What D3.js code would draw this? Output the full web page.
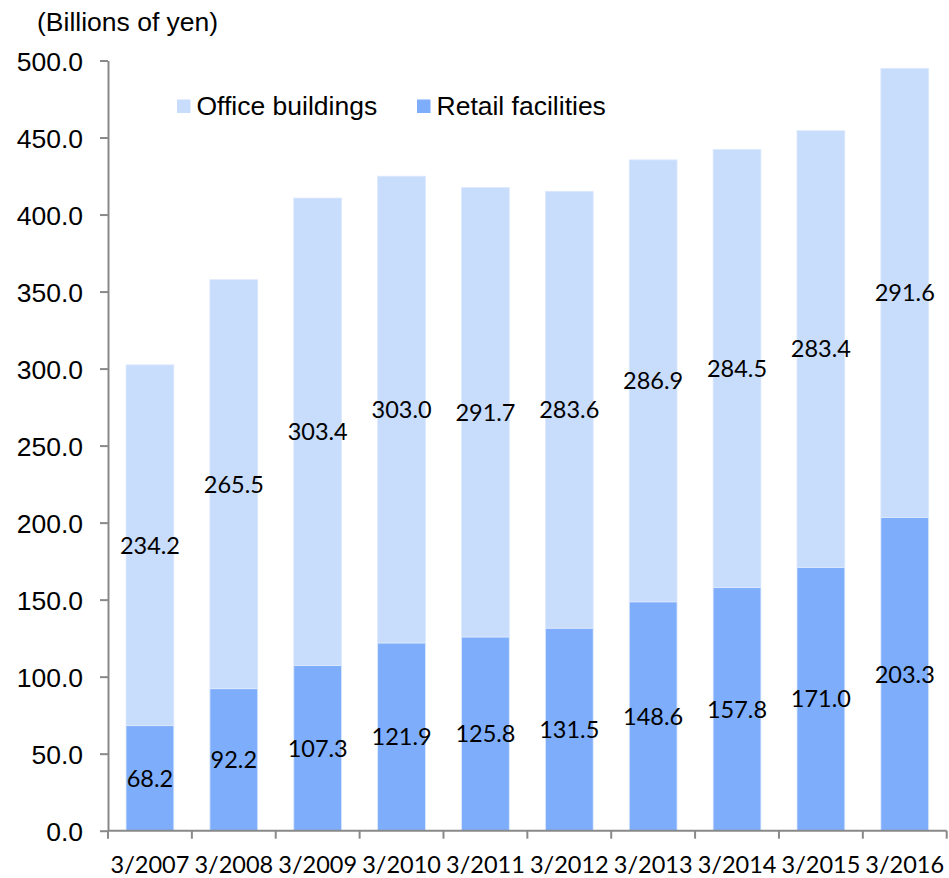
<!DOCTYPE html>
<html>
<head>
<meta charset="utf-8">
<script src="https://cdn.jsdelivr.net/npm/d3@7"></script>
<style>
  body { margin: 0; background: #fff; }
  svg { display: block; }
</style>
</head>
<body>
<div id="chart"></div>
<script>
const categories = ["3/2007", "3/2008", "3/2009", "3/2010", "3/2011", "3/2012", "3/2013", "3/2014", "3/2015", "3/2016"];
const retail = [68.2, 92.2, 107.3, 121.9, 125.8, 131.5, 148.6, 157.8, 171.0, 203.3];
const office = [234.2, 265.5, 303.4, 303.0, 291.7, 283.6, 286.9, 284.5, 283.4, 291.6];
const yTicks = [0, 50, 100, 150, 200, 250, 300, 350, 400, 450, 500];
const seriesNames = ["Office buildings", "Retail facilities"];

const width = 949, height = 878;
const colors = { office: "#c8dcfb", retail: "#7eaefb" };
const sansFont = "'Liberation Sans', Arial, sans-serif";
const labelFont = "Lato, 'Open Sans', sans-serif";

const svg = d3.select("#chart")
  .append("svg")
  .attr("width", width)
  .attr("height", height);

const x = d3.scaleBand()
  .domain(categories)
  .range([108, 946.7])
  .paddingInner(0.43)
  .paddingOuter(0.215);

const y = d3.scaleLinear().domain([0, 500]).range([830.7, 60.5]);

const data = categories.map(function (c, i) {
  return { cat: c, retail: retail[i], office: office[i] };
});

const stack = d3.stack().keys(["retail", "office"])(data);

// bars
svg.append("g")
  .selectAll("g")
  .data(stack)
  .join("g")
  .attr("fill", function (s) { return colors[s.key]; })
  .selectAll("rect")
  .data(function (s) { return s; })
  .join("rect")
  .attr("x", function (d) { return x(d.data.cat); })
  .attr("y", function (d) { return y(d[1]); })
  .attr("width", x.bandwidth())
  .attr("height", function (d) { return y(d[0]) - y(d[1]); })
  .attr("stroke", "#dde9fd")
  .attr("stroke-width", 0.8);

// value labels
svg.append("g")
  .selectAll("g")
  .data(stack)
  .join("g")
  .selectAll("text")
  .data(function (s) { return s; })
  .join("text")
  .attr("x", function (d) { return x(d.data.cat) + x.bandwidth() / 2; })
  .attr("y", function (d) { return y((d[0] + d[1]) / 2); })
  .attr("dy", "0.36em")
  .attr("text-anchor", "middle")
  .style("font-family", labelFont)
  .style("font-size", "23.5px")
  .attr("fill", "#000")
  .text(function (d) { return (d[1] - d[0]).toFixed(1); });

// y axis
const axisColor = "#898989";
const yAxis = svg.append("g")
  .attr("transform", "translate(108,0)")
  .call(d3.axisLeft(y).tickValues(yTicks).tickSize(8).tickSizeOuter(0)
    .tickFormat(function (d) { return d3.format(".1f")(d); }));
yAxis.select(".domain").attr("stroke", axisColor).attr("stroke-width", 2);
yAxis.selectAll(".tick line").attr("stroke", axisColor).attr("stroke-width", 2);
yAxis.selectAll(".tick text")
  .attr("x", -25)
  .attr("dy", "0.36em")
  .attr("fill", "#000")
  .style("font-family", sansFont)
  .style("font-size", "26.5px");

// x axis
const x0 = x.range()[0];
const step = x.step();
const xAxis = svg.append("g");
xAxis.append("line")
  .attr("x1", x0).attr("x2", x.range()[1])
  .attr("y1", y(0)).attr("y2", y(0))
  .attr("stroke", axisColor).attr("stroke-width", 2);
xAxis.selectAll("line.tk")
  .data(d3.range(categories.length + 1))
  .join("line")
  .attr("class", "tk")
  .attr("x1", function (i) { return x0 + i * step; })
  .attr("x2", function (i) { return x0 + i * step; })
  .attr("y1", y(0)).attr("y2", y(0) + 8)
  .attr("stroke", axisColor).attr("stroke-width", 2);
xAxis.selectAll("text")
  .data(categories)
  .join("text")
  .attr("x", function (c) { return x(c) + x.bandwidth() / 2; })
  .attr("y", 873)
  .attr("text-anchor", "middle")
  .style("font-family", labelFont)
  .style("font-size", "23.5px")
  .attr("fill", "#000")
  .text(function (c) { return c; });

// unit title
svg.append("text")
  .attr("x", 37)
  .attr("y", 31)
  .style("font-family", sansFont)
  .style("font-size", "26.5px")
  .text("(Billions of yen)");

// legend
const legendItems = [
  { name: seriesNames[0], color: colors.office, x: 177 },
  { name: seriesNames[1], color: colors.retail, x: 417 }
];
const legend = svg.append("g")
  .selectAll("g")
  .data(legendItems)
  .join("g")
  .attr("transform", function (d) { return "translate(" + d.x + ",99.5)"; });
legend.append("rect")
  .attr("width", 13.5)
  .attr("height", 13.5)
  .attr("fill", function (d) { return d.color; });
legend.append("text")
  .attr("x", 19.5)
  .attr("y", 15)
  .style("font-family", sansFont)
  .style("font-size", "26.5px")
  .text(function (d) { return d.name; });
</script>
</body>
</html>
